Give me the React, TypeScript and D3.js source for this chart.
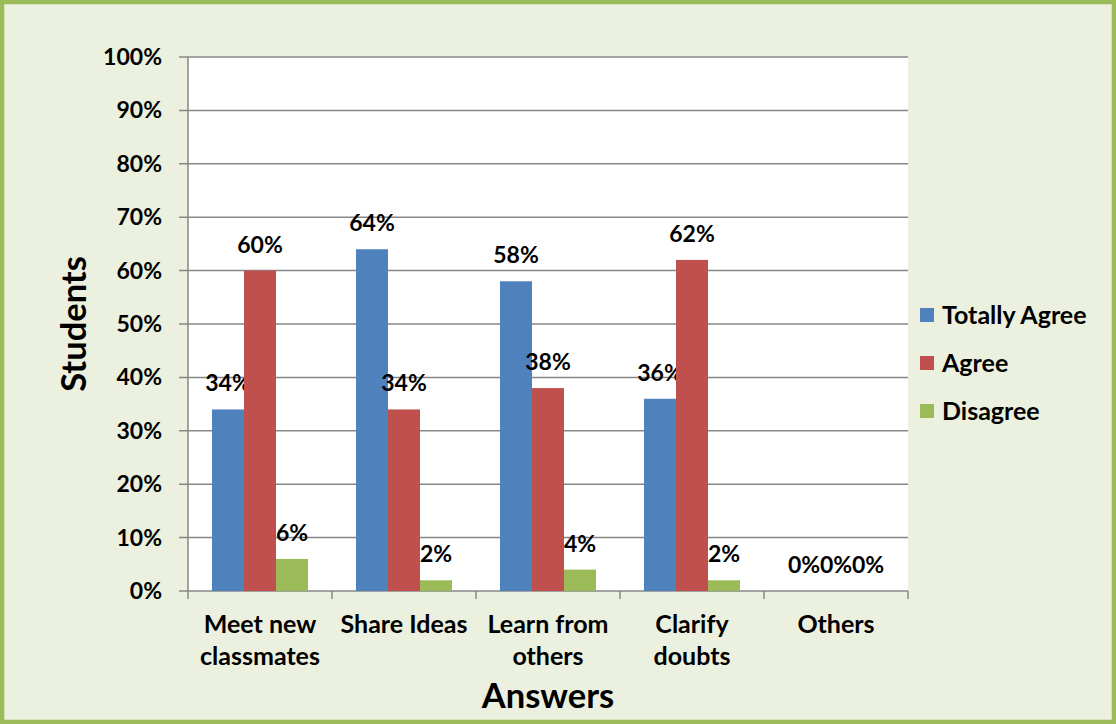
import React from "react";
import * as d3 from "d3";

const categories: string[][] = [
  ["Meet new", "classmates"],
  ["Share Ideas"],
  ["Learn from", "others"],
  ["Clarify", "doubts"],
  ["Others"],
];
const seriesNames = ["Totally Agree", "Agree", "Disagree"];
const totallyAgree = [34, 64, 58, 36, 0];
const agree = [60, 34, 38, 62, 0];
const disagree = [6, 2, 4, 2, 0];
const seriesColors = ["#4F81BD", "#C0504D", "#9BBB59"];
const yTicks = [0, 10, 20, 30, 40, 50, 60, 70, 80, 90, 100];

const W = 1116;
const H = 724;
const FONT = "Lato, 'Open Sans', sans-serif";

export default function App() {
  const left = 188, right = 908, top = 57, bottom = 591;
  const x = d3.scaleBand<number>().domain(d3.range(categories.length)).range([left, right]).paddingInner(0).paddingOuter(0);
  const y = d3.scaleLinear().domain([0, 100]).range([bottom, top]);
  const inner = d3.scaleBand<number>().domain([0, 1, 2]).range([24, x.bandwidth() - 24]);
  const series = [totallyAgree, agree, disagree];
  const grid = "#878787";

  return (
    <svg width={W} height={H} style={{ position: "absolute", left: 0, top: 0 }} fontFamily={FONT} fontWeight="bold">
      <rect x={2} y={2} width={W - 4} height={H - 4} fill="#EBF1DE" stroke="#9BBB59" strokeWidth={4.5} />
      <rect x={left} y={top} width={right - left} height={bottom - top} fill="#ffffff" />
      {yTicks.map((t) => (
        <g key={t}>
          <line x1={left - 9} x2={right} y1={y(t)} y2={y(t)} stroke={grid} strokeWidth={1.5} />
          <text x={162} y={y(t)} dy="0.35em" textAnchor="end" fontSize={23} fill="#000">{t}%</text>
        </g>
      ))}
      <line x1={left} x2={left} y1={top} y2={bottom} stroke={grid} strokeWidth={1.5} />
      {d3.range(categories.length + 1).map((i) => {
        const xx = left + i * x.bandwidth();
        return <line key={i} x1={xx} x2={xx} y1={bottom} y2={bottom + 8} stroke={grid} strokeWidth={1.5} />;
      })}
      {series.map((vals, s) =>
        vals.map((v, i) => {
          const bx = (x(i) as number) + (inner(s) as number);
          const bw = inner.bandwidth();
          return (
            <g key={`${s}-${i}`}>
              {v > 0 && <rect x={bx} y={y(v)} width={bw} height={bottom - y(v)} fill={seriesColors[s]} />}
              <text x={bx + bw / 2} y={y(v) - 18} textAnchor="middle" fontSize={23} fill="#000">{v}%</text>
            </g>
          );
        })
      )}
      {categories.map((lines, i) => (
        <text key={i} x={(x(i) as number) + x.bandwidth() / 2} y={633} textAnchor="middle" fontSize={25} fill="#000">
          {lines.map((l, j) => (
            <tspan key={j} x={(x(i) as number) + x.bandwidth() / 2} dy={j === 0 ? 0 : 32}>{l}</tspan>
          ))}
        </text>
      ))}
      <text x={(left + right) / 2} y={708} textAnchor="middle" fontSize={34.5} fill="#000">Answers</text>
      <text transform={`translate(86,${(top + bottom) / 2}) rotate(-90)`} textAnchor="middle" fontSize={34.5} fill="#000">Students</text>
      {seriesNames.map((n, s) => (
        <g key={n}>
          <rect x={920} y={308 + s * 48} width={14} height={14} fill={seriesColors[s]} />
          <text x={942} y={315 + s * 48} dy="0.35em" fontSize={25} fill="#000">{n}</text>
        </g>
      ))}
    </svg>
  );
}
